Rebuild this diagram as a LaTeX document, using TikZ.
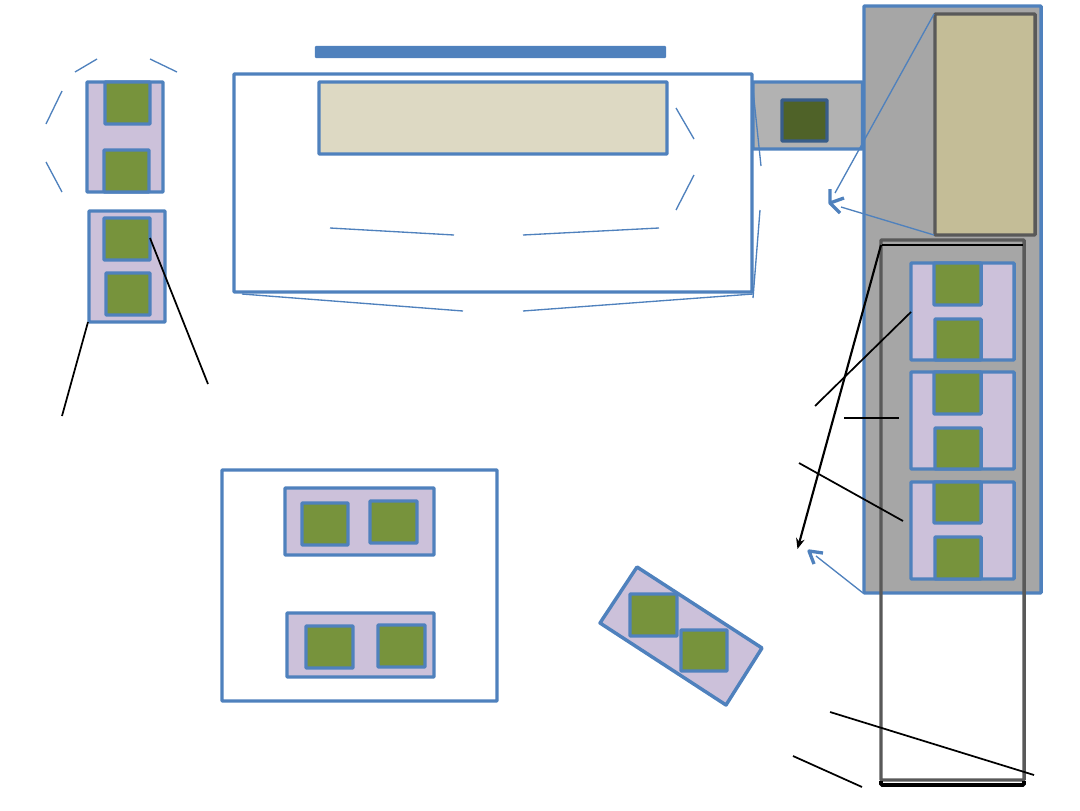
\documentclass[tikz,border=0pt]{standalone}
\usetikzlibrary{arrows.meta}
\definecolor{bl}{HTML}{4F81BD}
\definecolor{lil}{HTML}{CCC1DA}
\definecolor{grn}{HTML}{77933C}
\definecolor{gr}{HTML}{A6A6A6}
\definecolor{grl}{HTML}{B2B2B2}
\definecolor{kh}{HTML}{C4BD97}
\definecolor{dg}{HTML}{595959}
\definecolor{dgrn}{HTML}{4F6228}
\definecolor{dbl}{HTML}{385D8A}
\definecolor{lt}{HTML}{DDD9C3}
\tikzset{
  bx/.style={draw=bl,line width=2.6pt,rounded corners=0.6pt,inner sep=0pt,outer sep=0pt,anchor=north west},
  lilac/.style={bx,fill=lil},
  green box/.style={bx,fill=grn},
  plain/.style={bx,fill=white},
  grey/.style={bx,fill=gr},
  thin blue/.style={draw=bl,line width=1pt},
  head/.style={draw=bl,line width=2.5pt,line join=round},
  blk/.style={draw=black,line width=1.3pt},
}
\newcommand{\rbox}[6]{\node[#2,minimum width={(#5-#3)*0.75pt},minimum height={(#6-#4)*0.75pt}] (#1) at (#3,#4) {};}
\begin{document}
\begin{tikzpicture}[x=0.75pt,y=-0.75pt]
\useasboundingbox (0,0) rectangle (1080,810);
% right-hand block
\rbox{bay}{grey}{864}{6}{1041}{593}
\rbox{annex}{bx,fill=grl}{753}{82}{862.5}{149}
\rbox{unit}{bx,fill=dgrn,draw=dbl}{782}{100}{827}{141}
\rbox{cabinet}{bx,fill=kh,draw=dg}{935}{14}{1035}{235}
% left column
\rbox{la}{lilac}{87}{82}{163}{192}
\rbox{la1}{green box}{105}{82}{150}{124}
\rbox{la2}{green box}{104}{150}{149}{192}
\rbox{lb}{lilac}{89}{211}{165}{322}
\rbox{lb1}{green box}{104}{218}{150}{260}
\rbox{lb2}{green box}{106}{273}{150}{315}
% main room
\rbox{bar}{bx,fill=bl,line width=1pt}{315.5}{46.5}{665.5}{57.5}
\rbox{room}{plain}{234}{74}{752}{292}
\rbox{counter}{bx,fill=lt}{319}{82}{667}{154}
% lower left room
\rbox{low}{plain}{222}{470}{497}{701}
\rbox{lc}{lilac}{285}{488}{434}{555}
\rbox{lc1}{green box}{302}{503}{348}{545}
\rbox{lc2}{green box}{370}{501}{417}{543}
\rbox{ld}{lilac}{287}{613}{434}{677}
\rbox{ld1}{green box}{306}{626}{353}{668}
\rbox{ld2}{green box}{378}{625}{425}{667}
% tilted block
\draw[bl,fill=lil,line width=2.6pt,line join=round] (637,567) -- (762,648) -- (726,705) -- (600,623) -- cycle;
\rbox{t1}{green box}{630}{594}{677}{636}
\rbox{t2}{green box}{681}{630}{727}{671}
% right column
\rbox{r1}{lilac}{911}{263}{1014}{360}
\rbox{r1a}{green box}{934}{263}{981}{305}
\rbox{r1b}{green box}{935}{319}{981}{360}
\rbox{r2}{lilac}{911}{372}{1014}{469}
\rbox{r2a}{green box}{934}{372}{981}{414}
\rbox{r2b}{green box}{935}{428}{981}{469}
\rbox{r3}{lilac}{911}{482}{1014}{579}
\rbox{r3a}{green box}{934}{482}{981}{523}
\rbox{r3b}{green box}{935}{537}{981}{579}
% long outlines
\rbox{strip2}{bx,draw=dg}{881}{240}{1024}{780}
% named ends
\foreach \n/\x/\y in {
 a1/75/72,a2/97/59,b1/150/59,b2/177/72,c1/46/124,c2/62/91,d1/46/162,d2/62/192,
 e1/676/108,e2/694/139,f1/676/210,f2/694/175,g1/330/228,g2/454/235,h1/523/235,h2/659/228,
 i1/242/294,i2/463/311,j1/523/311,j2/753/294,k1/753/90,k2/761/166,l1/760/210,l2/753/298,
 m1/934/14,m2/835/193,n1/934/235,n2/841/207,o1/863/593,o2/816/556,
 t1a/830/203,w1/830/189,w2/844/198,w3/840/213,
 t2a/809/551,w4/823/553,w5/814/564,
 p1/881/245,p2/797.5/549,q1/911/312,q2/815/406,r1e/844/418,r2e/899/418,s1/799/463,s2/903/521,
 u1/830/712,u2/1034/775,v1/793/756,v2/862/787,x1/88/322,x2/62/416,y1/150/238,y2/208/384,
 tl/882/245,tr/1023/245,bl1/881/781,bl2/881/785,br2/1024/785,br1/1024/781}
 {\coordinate (\n) at (\x,\y);}
% black edges of the long strip
\draw[black,line width=2.2pt] (tl) -- (tr);
\draw[black,line width=2.8pt,rounded corners=1pt] (bl1) -- (bl2) -- (br2) -- (br1);
% thin blue lines
\foreach \p/\q in {a1/a2,b1/b2,c1/c2,d1/d2,e1/e2,f1/f2,g1/g2,h1/h2,i1/i2,j1/j2,k1/k2,l1/l2,m1/m2,n1/n2,o1/o2}
 {\draw[thin blue] (\p) -- (\q);}
% open arrowheads
\draw[head] (w1) -- (t1a) -- (w2);
\draw[head] (t1a) -- (w3);
\draw[head] (w4) -- (t2a) -- (w5);
% black lines
\foreach \p/\q in {q1/q2,r1e/r2e,s1/s2,u1/u2,v1/v2,x1/x2,y1/y2}
 {\draw[blk] (\p) -- (\q);}
\draw[blk,line width=1.6pt,-{Stealth[length=8pt,width=6.5pt]}] (p1) -- (p2);
\end{tikzpicture}
\end{document}
